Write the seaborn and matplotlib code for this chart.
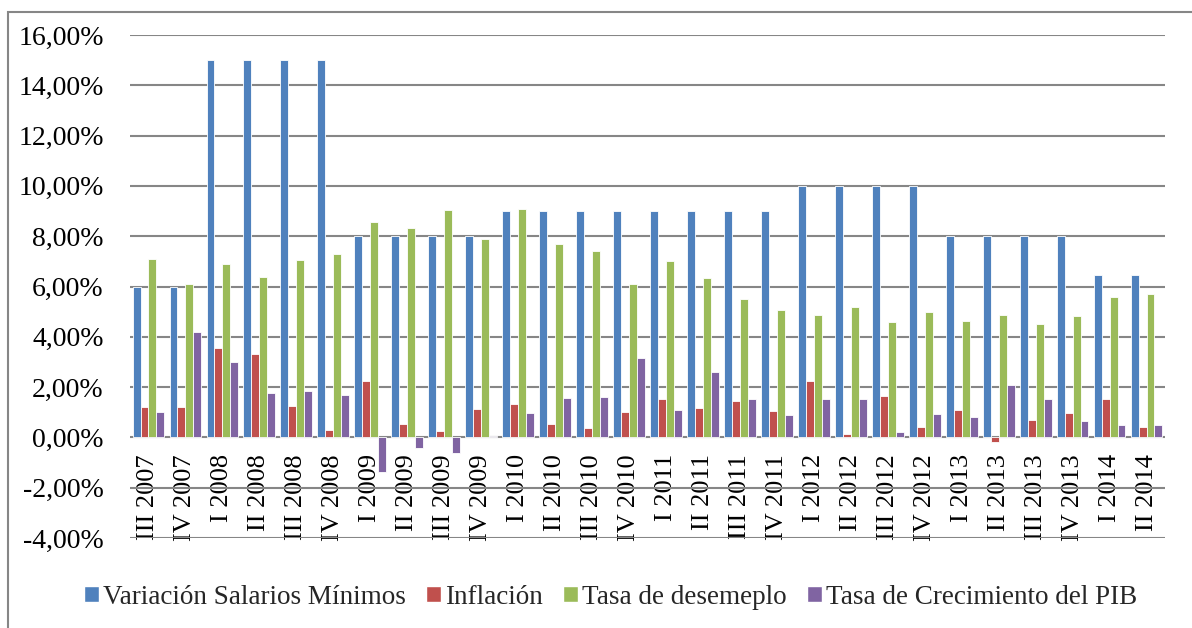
import numpy as np
import pandas as pd
import matplotlib
matplotlib.use("Agg")
import matplotlib.pyplot as plt
import seaborn as sns
from matplotlib.patches import Rectangle
from matplotlib.ticker import FuncFormatter

quarters = ["III 2007", "IV 2007",
            "I 2008", "II 2008", "III 2008", "IV 2008",
            "I 2009", "II 2009", "III 2009", "IV 2009",
            "I 2010", "II 2010", "III 2010", "IV 2010",
            "I 2011", "II 2011", "III 2011", "IV 2011",
            "I 2012", "II 2012", "III 2012", "IV 2012",
            "I 2013", "II 2013", "III 2013", "IV 2013",
            "I 2014", "II 2014"]

salarios = [6.0, 6.0, 15.0, 15.0, 15.0, 15.0, 8.0, 8.0, 8.0, 8.0,
            9.0, 9.0, 9.0, 9.0, 9.0, 9.0, 9.0, 9.0,
            10.0, 10.0, 10.0, 10.0, 8.0, 8.0, 8.0, 8.0, 6.46, 6.46]
inflacion = [1.19, 1.19, 3.55, 3.33, 1.23, 0.28, 2.26, 0.54, 0.24, 1.14,
             1.31, 0.52, 0.38, 1.00, 1.54, 1.18, 1.45, 1.03,
             2.24, 0.13, 1.64, 0.40, 1.10, -0.20, 0.70, 0.98, 1.51, 0.42]
desempleo = [7.08, 6.08, 6.89, 6.39, 7.04, 7.28, 8.58, 8.32, 9.03, 7.90,
             9.07, 7.68, 7.43, 6.09, 7.03, 6.33, 5.49, 5.05,
             4.85, 5.17, 4.58, 4.97, 4.62, 4.87, 4.52, 4.84, 5.58, 5.69]
pib = [1.00, 4.19, 2.99, 1.76, 1.86, 1.67, -1.38, -0.42, -0.62, 0.07,
       0.98, 1.55, 1.62, 3.17, 1.10, 2.59, 1.51, 0.88,
       1.53, 1.54, 0.20, 0.94, 0.81, 2.10, 1.54, 0.64, 0.48, 0.48]

series_names = ["Variación Salarios Mínimos", "Inflación",
                "Tasa de desemeplo", "Tasa de Crecimiento del PIB"]
colors = ["#4F81BD", "#C0504D", "#9BBB59", "#8064A2"]

frames = []
for name, vals in zip(series_names, [salarios, inflacion, desempleo, pib]):
    frames.append(pd.DataFrame({"Trimestre": quarters, "Serie": name, "Valor": vals}))
df = pd.concat(frames, ignore_index=True)

sns.set_theme(style="white")
plt.rcParams["font.family"] = ["Liberation Serif", "DejaVu Serif"]

fig = plt.figure(figsize=(11.92, 6.28), dpi=100)
ax = fig.add_axes([130 / 1192, 1 - 538 / 628, (1165 - 130) / 1192, (538 - 35) / 628])

sns.barplot(data=df, x="Trimestre", y="Valor", hue="Serie", order=quarters,
            hue_order=series_names, palette=colors, width=0.86,
            edgecolor="white", linewidth=0.6, saturation=1, ax=ax, legend=False)

ax.set_ylim(-4, 16)
ax.set_xlim(-0.5, len(quarters) - 0.5)
ax.set_yticks(np.arange(-4, 17, 2))
ax.yaxis.set_major_formatter(FuncFormatter(lambda v, p: f"{v:.2f}%".replace(".", ",")))
ax.grid(axis="y", color="#868686", linewidth=1.5)
ax.set_axisbelow(True)
ax.set_xlabel("")
ax.set_ylabel("")
for s in ["left", "right", "top"]:
    ax.spines[s].set_visible(False)
ax.spines["bottom"].set_position(("data", 0))
ax.spines["bottom"].set_visible(False)
ax.tick_params(axis="y", length=0, pad=19, labelsize=20, labelcolor="black")
ax.tick_params(axis="x", length=0, pad=12, labelsize=19, labelcolor="black")
for lbl in ax.get_xticklabels():
    lbl.set_rotation(90)
    lbl.set_va("top")
    lbl.set_ha("center")

handles = [Rectangle((0, 0), 1, 1, facecolor=c) for c in colors]
fig.legend(handles, series_names, loc="center", bbox_to_anchor=(0.512, 1 - 597 / 628),
           ncol=4, frameon=False, fontsize=19.5, handlelength=0.55, handleheight=0.55,
           handletextpad=0.15, columnspacing=0.75)

fig.patches.append(Rectangle((8 / 1192, -0.1), 1.2, 1 - 12 / 628 + 0.1,
                             transform=fig.transFigure, fill=False,
                             edgecolor="#868686", linewidth=1.5))

fig.savefig("out.png", dpi=100)
